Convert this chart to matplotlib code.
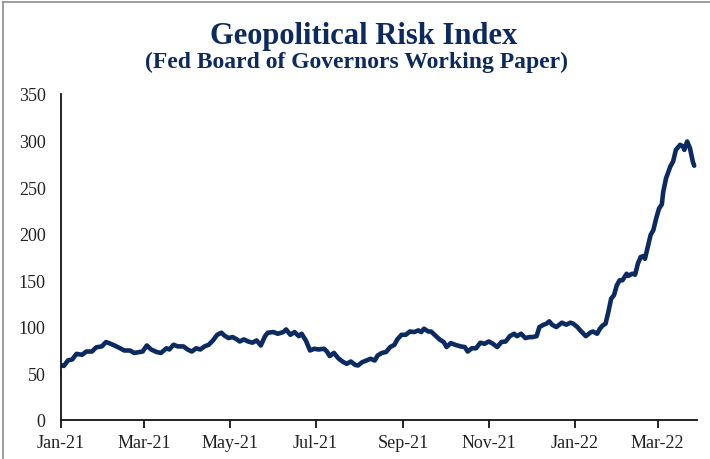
import pandas as pd
import matplotlib.pyplot as plt
import matplotlib.dates as mdates
from matplotlib.lines import Line2D

# daily geopolitical risk index readings (sampled)
dates = [
    '2021-01-01', '2021-01-03', '2021-01-06', '2021-01-09', '2021-01-12', '2021-01-16',
    '2021-01-19', '2021-01-23', '2021-01-26', '2021-01-30', '2021-02-02', '2021-02-05',
    '2021-02-08', '2021-02-12', '2021-02-15', '2021-02-19', '2021-02-22', '2021-02-26',
    '2021-02-28', '2021-03-03', '2021-03-06', '2021-03-10', '2021-03-13', '2021-03-17',
    '2021-03-19', '2021-03-22', '2021-03-25', '2021-03-29', '2021-04-01', '2021-04-04',
    '2021-04-07', '2021-04-10', '2021-04-13', '2021-04-16', '2021-04-19', '2021-04-22',
    '2021-04-25', '2021-04-27', '2021-04-30', '2021-05-03', '2021-05-06', '2021-05-08',
    '2021-05-11', '2021-05-14', '2021-05-17', '2021-05-20', '2021-05-23', '2021-05-26',
    '2021-05-28', '2021-06-01', '2021-06-04', '2021-06-08', '2021-06-10', '2021-06-13',
    '2021-06-16', '2021-06-19', '2021-06-21', '2021-06-24', '2021-06-27', '2021-06-30',
    '2021-07-03', '2021-07-07', '2021-07-09', '2021-07-11', '2021-07-14', '2021-07-17',
    '2021-07-20', '2021-07-23', '2021-07-26', '2021-07-29', '2021-07-31', '2021-08-03',
    '2021-08-06', '2021-08-09', '2021-08-12', '2021-08-14', '2021-08-17', '2021-08-20',
    '2021-08-23', '2021-08-26', '2021-08-28', '2021-08-31', '2021-09-03', '2021-09-06',
    '2021-09-09', '2021-09-12', '2021-09-14', '2021-09-16', '2021-09-19', '2021-09-21',
    '2021-09-24', '2021-09-27', '2021-09-30', '2021-10-02', '2021-10-05', '2021-10-08',
    '2021-10-12', '2021-10-15', '2021-10-17', '2021-10-20', '2021-10-23', '2021-10-26',
    '2021-10-29', '2021-11-01', '2021-11-04', '2021-11-07', '2021-11-10', '2021-11-13',
    '2021-11-16', '2021-11-19', '2021-11-21', '2021-11-24', '2021-11-27', '2021-11-30',
    '2021-12-02', '2021-12-05', '2021-12-07', '2021-12-10', '2021-12-12', '2021-12-14',
    '2021-12-16', '2021-12-19', '2021-12-23', '2021-12-26', '2021-12-29', '2021-12-31',
    '2022-01-03', '2022-01-05', '2022-01-09', '2022-01-12', '2022-01-14', '2022-01-17',
    '2022-01-19', '2022-01-21', '2022-01-23', '2022-01-25', '2022-01-27', '2022-01-29',
    '2022-01-31', '2022-02-02', '2022-02-04', '2022-02-07', '2022-02-08', '2022-02-11',
    '2022-02-13', '2022-02-15', '2022-02-17', '2022-02-19', '2022-02-20', '2022-02-22',
    '2022-02-24', '2022-02-26', '2022-02-28', '2022-03-02', '2022-03-04', '2022-03-05',
    '2022-03-07', '2022-03-10', '2022-03-12', '2022-03-14', '2022-03-17', '2022-03-19',
    '2022-03-20', '2022-03-22', '2022-03-24', '2022-03-26', '2022-03-27',
]
gpr = [
    59, 58, 64, 65, 71, 70,
    73.5, 73.5, 78, 79, 83.7, 82,
    80, 77, 74.6, 74.6, 72, 73,
    73.5, 80, 75.7, 73, 72, 77,
    75.7, 80.8, 79, 79, 75.7, 73.5,
    77, 75.7, 79, 80.8, 85.4, 91.5,
    93.7, 90.8, 88, 89, 86.5, 84.3,
    86.5, 84.3, 83, 85.4, 80, 90,
    93.7, 94.4, 92.6, 94.4, 97.2, 91.5,
    94.4, 90, 92.6, 85.4, 74.6, 76.5,
    75.7, 76.5, 73.5, 68.6, 72, 66.4,
    62.8, 60.3, 62.8, 59.2, 58.5, 62,
    63.9, 65.7, 63.9, 69.2, 72, 73,
    78.3, 80.8, 86.5, 91.5, 91.5, 95,
    94.4, 96.2, 94.4, 98, 95, 95,
    90.8, 86.5, 83.7, 78.3, 82.6, 80.8,
    79, 78.3, 73.5, 77, 77, 83,
    81.8, 84.3, 81.8, 78.3, 83.7, 84.3,
    90, 92.6, 90, 92.6, 88, 89,
    89, 90, 99.8, 102.3, 103.4, 105.9,
    102.3, 99.8, 104.5, 102.3, 104.5, 103.4,
    99.8, 96.2, 90, 93.7, 95, 92.6,
    98, 101.5, 103.4, 116, 130.3, 134,
    144.6, 150, 150, 157, 154.7, 157,
    156, 168, 175, 176, 173, 186,
    198.5, 204, 216.5, 227, 231.5, 245,
    259.5, 272, 277.5, 290, 295.4, 293.7,
    290, 299, 291.8, 277.5, 273,
]

navy = '#0c2a62'
serif = ['Liberation Serif', 'DejaVu Serif']

fig = plt.figure(figsize=(7.1, 4.6), dpi=100)
ax = fig.add_axes([0.0859, 0.0848, 0.8958, 0.7087])

ax.plot(pd.to_datetime(dates), gpr, color=navy, lw=3.3, solid_capstyle='round',
        solid_joinstyle='round')

ax.set_ylim(0, 350)
ax.set_yticks(range(0, 351, 50))
ax.set_xlim(pd.Timestamp('2021-01-01'), pd.Timestamp('2022-03-29'))
ax.xaxis.set_major_locator(mdates.MonthLocator(bymonth=[1, 3, 5, 7, 9, 11]))
ax.xaxis.set_major_formatter(mdates.DateFormatter('%b-%y'))

ax.tick_params(axis='y', length=0, pad=11, labelsize=13, labelcolor='#222222')
ax.tick_params(axis='x', length=6, width=1.2, direction='out', pad=4,
               labelsize=13, labelcolor='#222222')
for lbl in ax.get_xticklabels() + ax.get_yticklabels():
    lbl.set_family(serif)

for side in ['top', 'right']:
    ax.spines[side].set_visible(False)
for side in ['left', 'bottom']:
    ax.spines[side].set_linewidth(1.3)
    ax.spines[side].set_color('#111111')

fig.text(0.512, 0.921, 'Geopolitical Risk Index', ha='center', va='center',
         fontsize=22, fontweight='bold', color=navy, family=serif)
fig.text(0.502, 0.865, '(Fed Board of Governors Working Paper)', ha='center',
         va='center', fontsize=17, fontweight='bold', color=navy, family=serif)

# thin grey frame along the left and top edges
for xs, ys in [([0.004, 0.004], [0, 0.994]), ([0.004, 1.0], [0.994, 0.994])]:
    fig.add_artist(Line2D(xs, ys, transform=fig.transFigure, color='#8c8c8c', lw=1.2))

fig.savefig('out.png', dpi=100)
